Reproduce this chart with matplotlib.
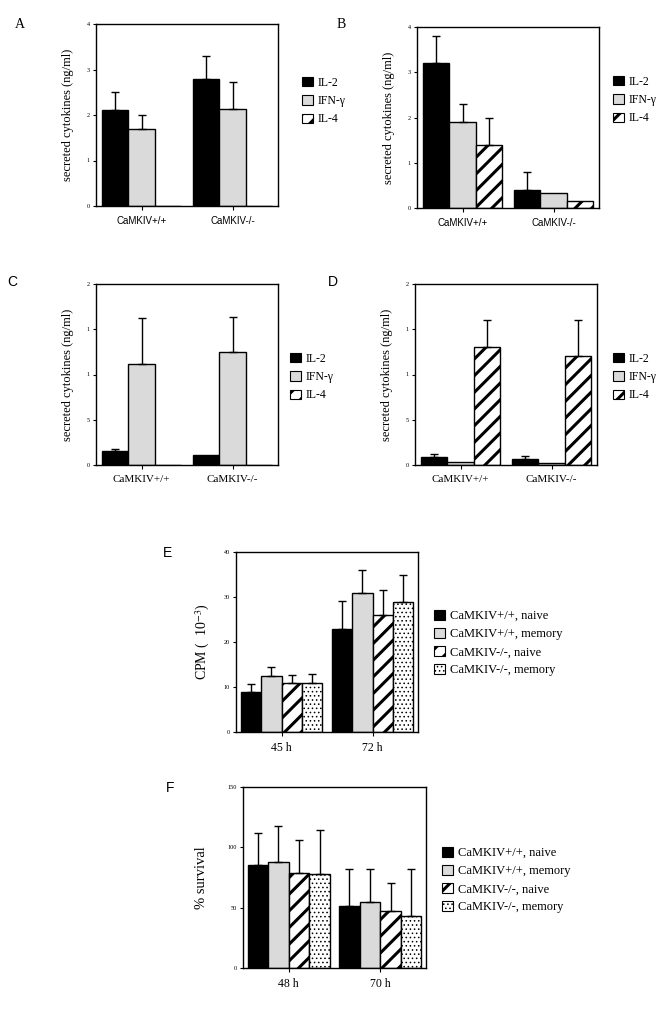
import numpy as np
import matplotlib.pyplot as plt
from matplotlib.patches import Patch

plt.rcParams['font.family'] = ['Liberation Serif', 'DejaVu Serif']
plt.rcParams['mathtext.fontset'] = 'stix'
plt.rcParams['hatch.linewidth'] = 2.2
plt.rcParams['axes.linewidth'] = 1.0

W, H = 669, 1010

groups_ab = ['CaMKIV+/+', 'CaMKIV-/-']
cyto = ['IL-2', 'IFN-\u03b3', 'IL-4']

# panel A (IL-4 not measured)
a_val = [[2.1, 2.8], [1.7, 2.13], [0, 0]]
a_err = [[0.4, 0.5], [0.3, 0.6], [0, 0]]
# panel B
b_val = [[3.2, 0.4], [1.9, 0.33], [1.4, 0.15]]
b_err = [[0.6, 0.4], [0.4, 0], [0.6, 0]]
# panel C
c_val = [[0.16, 0.107], [1.12, 1.245], [0, 0]]
c_err = [[0.02, 0], [0.5, 0.395], [0, 0]]
# panel D
d_val = [[0.085, 0.07], [0.037, 0.018], [1.30, 1.20]]
d_err = [[0.035, 0.026], [0, 0], [0.30, 0.40]]

time_e = ['45 h', '72 h']
time_f = ['48 h', '70 h']
cells = ['CaMKIV+/+, naive', 'CaMKIV+/+, memory', 'CaMKIV-/-, naive', 'CaMKIV-/-, memory']
e_val = [[9.0, 23.0], [12.4, 31.0], [11.0, 25.9], [11.0, 29.0]]
e_err = [[1.7, 6.1], [2.0, 5.0], [1.7, 5.6], [1.8, 6.0]]
f_val = [[85.6, 51.7], [87.6, 55.0], [78.7, 47.2], [77.9, 43.4]]
f_err = [[26.3, 30.3], [30.1, 27.3], [27.1, 23.0], [36.5, 38.4]]

styles = [dict(facecolor='black', hatch=None, hlw=1),
          dict(facecolor='#dadada', hatch=None, hlw=1),
          dict(facecolor='white', hatch='//', hlw=2.2),
          dict(facecolor='white', hatch='....', hlw=0.6)]

fig = plt.figure(figsize=(W / 100, H / 100), dpi=100)


def ax_px(l, t, r, b):
    return fig.add_axes([l / W, 1 - b / H, (r - l) / W, (b - t) / H])


def set_hlw(p, lw):
    try:
        p.set_hatch_linewidth(lw)
    except AttributeError:
        pass


def draw(ax, vals, errs, width, cats, cat_font, cat_size):
    n = len(vals)
    x = np.arange(len(cats))
    for i in range(n):
        pos = x + (i - (n - 1) / 2) * width
        st = styles[i]
        bars = ax.bar(pos, vals[i], width, color=st['facecolor'], edgecolor='black',
                      hatch=st['hatch'], linewidth=1.0, zorder=2)
        for p in bars:
            set_hlw(p, st['hlw'])
        for p, v, e in zip(pos, vals[i], errs[i]):
            if e > 0:
                ax.errorbar(p, v, yerr=[[0], [e]], fmt='none', ecolor='black',
                            elinewidth=1.0, capsize=3, capthick=1.0, zorder=3)
    ax.set_xlim(-0.5, 1.5)
    ax.set_xticks(x)
    ax.set_xticklabels(cats, family=cat_font, fontsize=cat_size)
    ax.tick_params(axis='x', length=3, width=0.8, pad=4)
    ax.tick_params(axis='y', length=2.5, width=0.8, labelsize=4.5, pad=2)


def legend(labels, n, xpx, ypx, size, spacing):
    hs = []
    for i in range(n):
        p = Patch(facecolor=styles[i]['facecolor'], edgecolor='black',
                  hatch=styles[i]['hatch'], linewidth=0.8)
        set_hlw(p, styles[i]['hlw'])
        hs.append(p)
    leg = fig.legend(hs, labels, loc='center left', bbox_to_anchor=(xpx / W, 1 - ypx / H),
                     frameon=False, fontsize=size, handlelength=0.9, handleheight=0.9,
                     handletextpad=0.4, labelspacing=spacing, borderpad=0, borderaxespad=0)
    for i, p in enumerate(leg.get_patches()):
        set_hlw(p, styles[i]['hlw'])


sans = ['Liberation Sans', 'DejaVu Sans']

# A
ax = ax_px(96, 24, 278, 206)
draw(ax, a_val, a_err, 0.29, groups_ab, sans, 7)
ax.set_ylim(0, 4)
ax.set_yticks([0, 1, 2, 3, 4])
ax.set_ylabel('secreted cytokines (ng/ml)', fontsize=9, labelpad=9)
legend(cyto, 3, 302, 101, 8.5, 0.55)
fig.text(20 / W, 1 - 25 / H, 'A', fontsize=10, ha='center', va='center')

# B
ax = ax_px(417, 27, 599, 208)
draw(ax, b_val, b_err, 0.29, groups_ab, sans, 7)
ax.set_ylim(0, 4)
ax.set_yticks([0, 1, 2, 3, 4])
ax.set_ylabel('secreted cytokines (ng/ml)', fontsize=9, labelpad=9)
legend(cyto, 3, 613, 100, 8.5, 0.55)
fig.text(341 / W, 1 - 25 / H, 'B', fontsize=10, ha='center', va='center')

# C
ax = ax_px(96, 284, 278, 465)
draw(ax, c_val, c_err, 0.29, groups_ab, None, 8)
ax.set_ylim(0, 2)
ax.set_yticks([0, 0.5, 1, 1.5, 2])
ax.set_yticklabels(['0', '5', '1', '1', '2'])
ax.set_ylabel('secreted cytokines (ng/ml)', fontsize=9, labelpad=9)
legend(cyto, 3, 290, 377, 8.5, 0.55)
fig.text(12 / W, 1 - 282 / H, 'C', fontsize=10, ha='center', va='center', family=sans)

# D
ax = ax_px(415, 284, 597, 465)
draw(ax, d_val, d_err, 0.29, groups_ab, None, 8)
ax.set_ylim(0, 2)
ax.set_yticks([0, 0.5, 1, 1.5, 2])
ax.set_yticklabels(['0', '5', '1', '1', '2'])
ax.set_ylabel('secreted cytokines (ng/ml)', fontsize=9, labelpad=9)
legend(cyto, 3, 613, 377, 8.5, 0.55)
fig.text(333 / W, 1 - 282 / H, 'D', fontsize=10, ha='center', va='center', family=sans)

# E
ax = ax_px(236, 552, 418, 732)
draw(ax, e_val, e_err, 0.225, time_e, None, 8.5)
ax.set_ylim(0, 40)
ax.set_yticks([0, 10, 20, 30, 40])
ax.set_ylabel('CPM (  10$^{-3}$)', fontsize=10, labelpad=8)
legend(cells, 4, 434, 643, 9, 0.45)
fig.text(168 / W, 1 - 553 / H, 'E', fontsize=10, ha='center', va='center', family=sans)

# F
ax = ax_px(243, 787, 426, 968)
draw(ax, f_val, f_err, 0.225, time_f, None, 8.5)
ax.set_ylim(0, 150)
ax.set_yticks([0, 50, 100, 150])
ax.set_ylabel('% survival', fontsize=10.5, labelpad=14)
legend(cells, 4, 442, 880, 9, 0.45)
fig.text(170 / W, 1 - 788 / H, 'F', fontsize=10, ha='center', va='center', family=sans)

fig.savefig('out.png', dpi=100)
